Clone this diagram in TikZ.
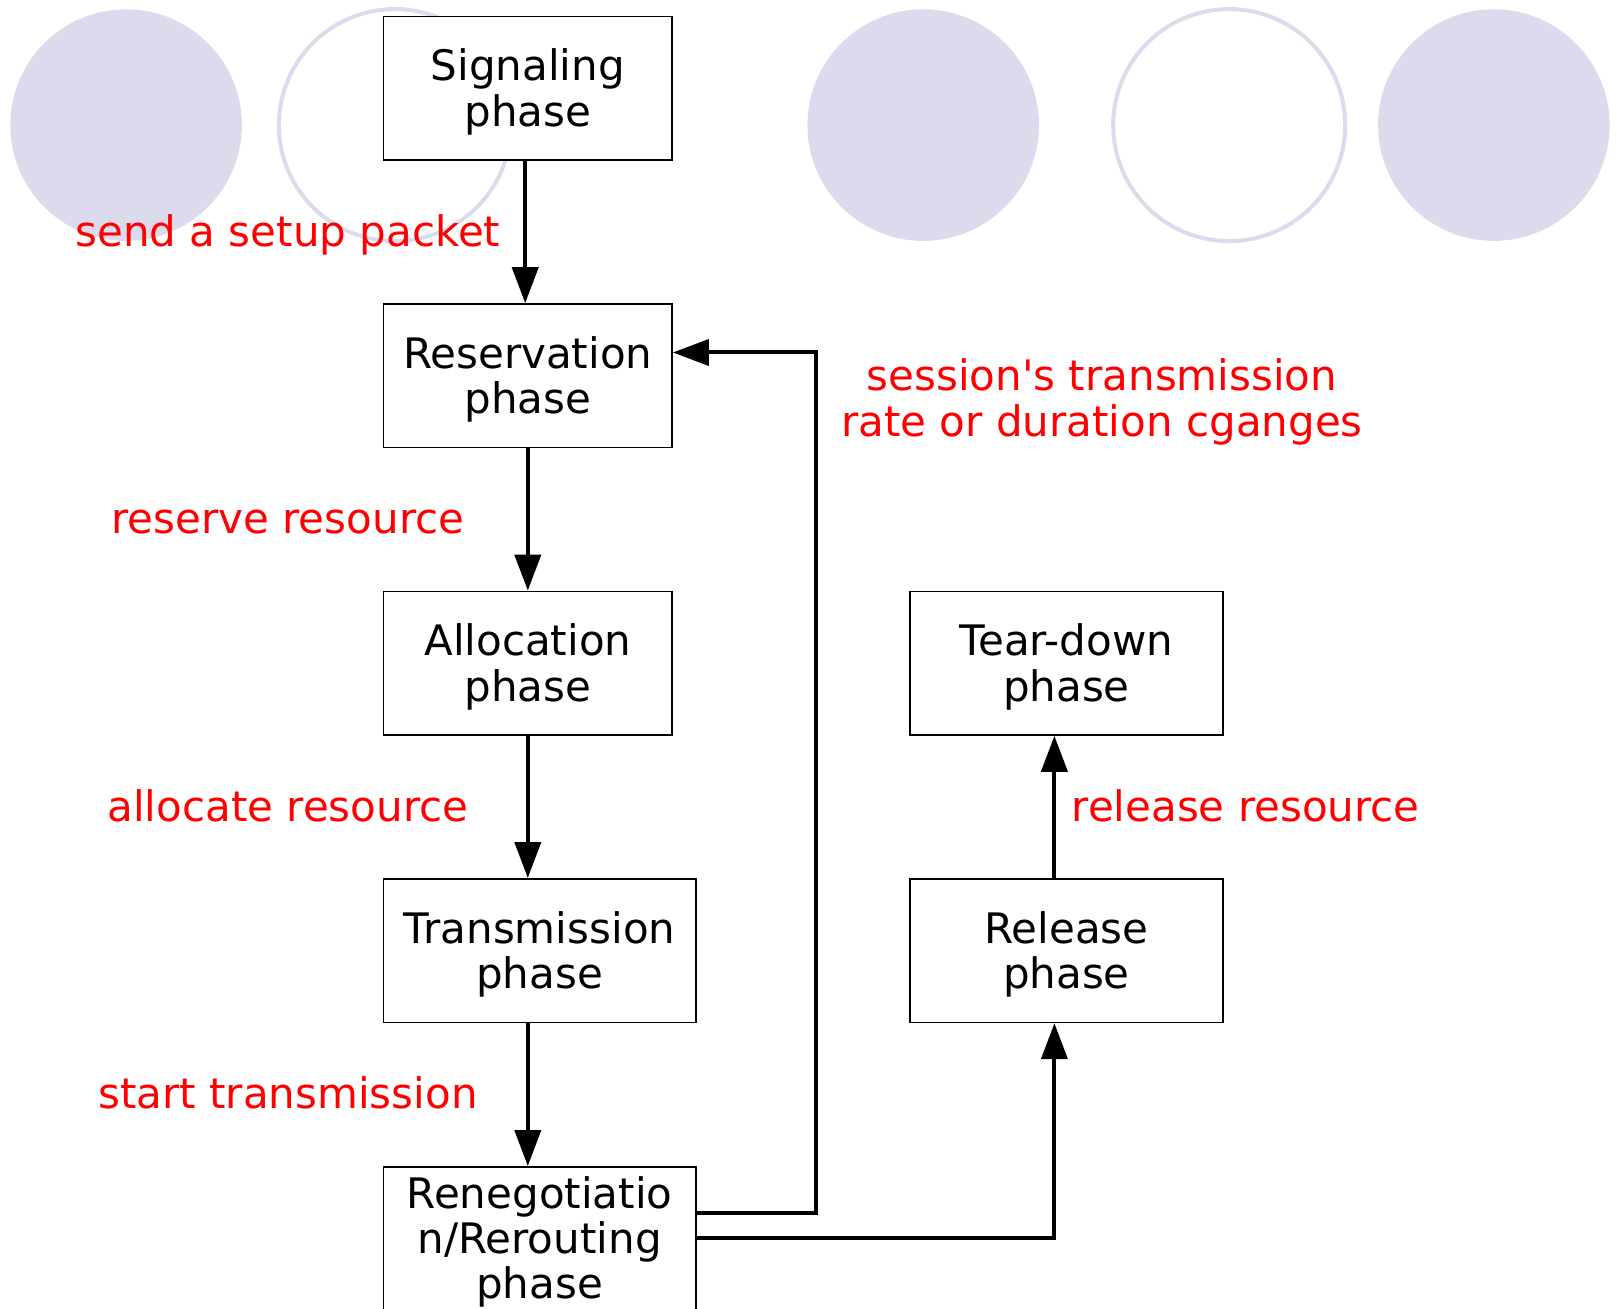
\documentclass[tikz,border=0pt]{standalone}
\usepackage{fontspec}
\setmainfont{DejaVu Sans}
\usetikzlibrary{arrows.meta}
\definecolor{bubble}{RGB}{219,219,237}
\newcommand{\tallrow}{\rule{0pt}{19.6pt}}

\begin{document}
\begin{tikzpicture}[x=0.5pt, y=-0.5pt,
  font=\fontsize{21}{22.7}\selectfont,
  phasebox/.style={draw, fill=white, line width=0.8pt, align=center, inner sep=0pt,
    minimum width=144.3pt, minimum height=71.8pt},
  widebox/.style={phasebox, minimum width=156.3pt},
  flow/.style={line width=2pt, -{Triangle[length=18pt,width=13pt]}},
  redtext/.style={text=red, align=center},
  note/.style={redtext, text height=16pt, text depth=0pt}]
  % page
  \useasboundingbox (0,0) rectangle (1621,1309);
  \clip (0,0) rectangle (1621,1309);
  % bubbles on top
  \fill[bubble] (126.1,125.1) circle[radius=115.8];
  \draw[bubble, line width=2pt] (394.9,125.1) circle[radius=116];
  \fill[bubble] (923.2,125.1) circle[radius=115.8];
  \draw[bubble, line width=2pt] (1229.2,125.1) circle[radius=116];
  \fill[bubble] (1493.8,125.1) circle[radius=115.8];
  % phases
  \node[phasebox] (sig) at (527.8,88.4) {\tallrow Signaling\\phase};
  \node[phasebox] (res) at (527.8,375.8) {\tallrow Reservation\\phase};
  \node[phasebox] (alloc) at (527.8,663.2) {\tallrow Allocation\\phase};
  \node[widebox] (trans) at (539.6,950.6) {\tallrow Transmission\\phase};
  \node[widebox, minimum height=90pt, anchor=north] (reneg) at (539.6,1166.1)
    {\tallrow Renegotiatio\\n/Rerouting\\phase\rule[-23pt]{0pt}{23pt}};
  \node[widebox] (tear) at (1066.4,663.2) {\tallrow Tear-down\\phase};
  \node[widebox] (rel) at (1066.4,950.6) {\tallrow Release\\phase};
  % arrows
  \draw[flow] ([xshift=-1.3pt]sig.south) -- ([xshift=-1.3pt]res.north);
  \draw[flow] (res) -- (alloc);
  \draw[flow] (alloc.south) -- (alloc.south |- trans.north);
  \draw[flow] (alloc.south |- trans.south) -- (alloc.south |- reneg.north);
  \coordinate (loop) at (815.7,760);
  \draw[flow] ([yshift=21.75pt]reneg.east) -| (loop) |- ([yshift=11.65pt]res.east);
  \draw[flow] ([yshift=9.3pt]reneg.east) -| ([xshift=-6pt]rel.south);
  \draw[flow] ([xshift=-6pt]rel.north) -- ([xshift=-6pt]tear.south);
  % labels
  \node[note] (setup) at (287.9,230.5) {send a setup packet};
  \node[note] (reserve) at (287.9,517.9) {reserve resource};
  \node[note] (allocate) at (287.9,805.3) {allocate resource};
  \node[note] (start) at (287.9,1092.7) {start transmission};
  \node[redtext] (change) at (1102,402) {session\textquotesingle s transmission\\rate or duration cganges};
  \node[note] (release) at (1245.7,805.3) {release resource};
\end{tikzpicture}
\end{document}
